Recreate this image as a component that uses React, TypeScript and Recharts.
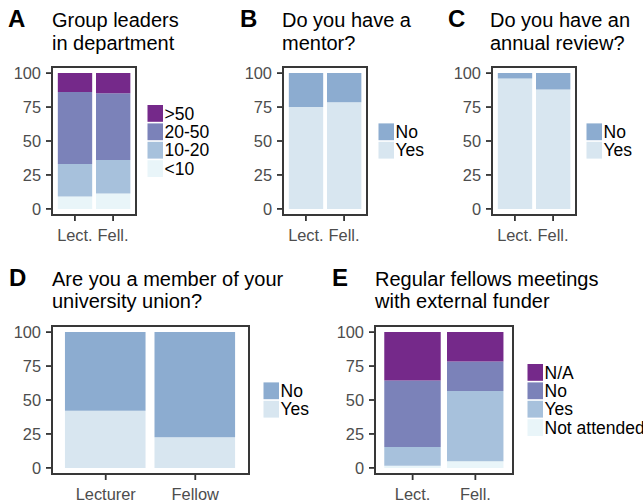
import React from "react";
import { BarChart, Bar, XAxis, YAxis } from "recharts";

const FONT = "'Liberation Sans', Arial, Helvetica, sans-serif";

// Categories
const shortCats = ["Lect.", "Fell."];
const longCats = ["Lecturer", "Fellow"];
const yTicks = [0, 25, 50, 75, 100];

// A: Group leaders in department (stack order bottom -> top)
const leadersLabels = ["<10", "10-20", "20-50", ">50"];
const leadersLt10 = [9.2, 11.4];
const leaders10to20 = [23.8, 24.6];
const leaders20to50 = [53, 49.2];
const leadersGt50 = [14, 14.8];

// B: Do you have a mentor?
const mentorYes = [75, 78.5];
const mentorNo = [25, 21.5];

// C: Do you have an annual review?
const reviewYes = [96, 88];
const reviewNo = [4, 12];

// D: Union membership
const unionYes = [42, 22.5];
const unionNo = [58, 77.5];

// E: Regular fellows meetings with external funder
const funderLabels = ["Not attended", "Yes", "No", "N/A"];
const funderNotAttended = [1.5, 4.8];
const funderYes = [13.9, 51.8];
const funderNo = [49, 21.7];
const funderNA = [35.6, 21.7];

const C_LIGHT = "#e9f5f9";
const C_LBLUE = "#a7c1dc";
const C_MID = "#7b82b9";
const C_PURPLE = "#75298a";
const C_NO = "#8cacd0";
const C_YES = "#d8e6f0";

type Series = { name: string; values: number[]; color: string };

const panels = [
  {
    letter: "A", title: ["Group leaders", "in department"],
    letterX: 8, titleX: 52, titleY: 27.3,
    plotLeft: 52, plotTop: 67, plotW: 84, plotH: 148, cats: shortCats,
    legendX: 147.5,
    series: [
      { name: leadersLabels[0], values: leadersLt10, color: C_LIGHT },
      { name: leadersLabels[1], values: leaders10to20, color: C_LBLUE },
      { name: leadersLabels[2], values: leaders20to50, color: C_MID },
      { name: leadersLabels[3], values: leadersGt50, color: C_PURPLE },
    ] as Series[],
  },
  {
    letter: "B", title: ["Do you have a", "mentor?"],
    letterX: 240, titleX: 282, titleY: 27.3,
    plotLeft: 283, plotTop: 67, plotW: 84, plotH: 148, cats: shortCats,
    legendX: 378.5,
    series: [
      { name: "Yes", values: mentorYes, color: C_YES },
      { name: "No", values: mentorNo, color: C_NO },
    ] as Series[],
  },
  {
    letter: "C", title: ["Do you have an", "annual review?"],
    letterX: 448, titleX: 490, titleY: 27.3,
    plotLeft: 492, plotTop: 67, plotW: 84, plotH: 148, cats: shortCats,
    legendX: 586.5,
    series: [
      { name: "Yes", values: reviewYes, color: C_YES },
      { name: "No", values: reviewNo, color: C_NO },
    ] as Series[],
  },
  {
    letter: "D", title: ["Are you a member of your", "university union?"],
    letterX: 9, titleX: 52, titleY: 285.5,
    plotLeft: 52, plotTop: 326, plotW: 197, plotH: 148, cats: longCats,
    legendX: 263.5,
    series: [
      { name: "Yes", values: unionYes, color: C_YES },
      { name: "No", values: unionNo, color: C_NO },
    ] as Series[],
  },
  {
    letter: "E", title: ["Regular fellows meetings", "with external funder"],
    letterX: 332, titleX: 375, titleY: 285.5,
    plotLeft: 375, plotTop: 326, plotW: 138, plotH: 148, cats: shortCats,
    legendX: 527.5,
    series: [
      { name: funderLabels[0], values: funderNotAttended, color: C_LIGHT },
      { name: funderLabels[1], values: funderYes, color: C_LBLUE },
      { name: funderLabels[2], values: funderNo, color: C_MID },
      { name: funderLabels[3], values: funderNA, color: C_PURPLE },
    ] as Series[],
  },
];

const YW = 50;
const XH = 40;
const MT = 6;
const MR = 6;

function Panel(p: any) {
  const u = p.plotW / 2.2;
  const pad = 0.1 * u;
  const data = p.cats.map((c: string, i: number) => {
    const row: any = { cat: c };
    p.series.forEach((s: Series) => (row[s.name] = s.values[i]));
    return row;
  });
  return (
    <div style={{ position: "absolute", left: p.plotLeft - YW, top: p.plotTop - MT }}>
      <BarChart
        width={YW + p.plotW + MR}
        height={MT + p.plotH + XH}
        data={data}
        margin={{ top: MT, right: MR, bottom: 0, left: 0 }}
        barSize={0.9 * u}
      >
        <XAxis
          dataKey="cat"
          height={XH}
          interval={0}
          padding={{ left: pad, right: pad }}
          axisLine={false}
          tickLine={{ stroke: "#333333", strokeWidth: 1.8 }}
          tickSize={6}
          tickMargin={8}
          tick={{ fill: "#4d4d4d", fontSize: 16.4, fontFamily: FONT }}
        />
        <YAxis
          width={YW}
          type="number"
          domain={[-4.5, 104.5]}
          ticks={yTicks}
          interval={0}
          axisLine={false}
          tickLine={{ stroke: "#333333", strokeWidth: 1.8 }}
          tickSize={6}
          tickMargin={5}
          tick={{ fill: "#4d4d4d", fontSize: 16.4, fontFamily: FONT }}
        />
        {p.series.map((s: Series) => (
          <Bar key={s.name} dataKey={s.name} stackId="a" fill={s.color} isAnimationActive={false} />
        ))}
      </BarChart>
    </div>
  );
}

export default function App() {
  const KEY_W = 15.5;
  const KEY_H = 16.8;
  const STEP = 18.4;
  return (
    <div
      style={{
        position: "absolute",
        left: 0,
        top: 0,
        width: 643,
        height: 502,
        background: "#ffffff",
        overflow: "hidden",
        fontFamily: FONT,
      }}
    >
      {panels.map((p) => (
        <Panel key={p.letter} {...p} />
      ))}
      <svg
        width={643}
        height={502}
        style={{ position: "absolute", left: 0, top: 0, pointerEvents: "none" }}
      >
        {panels.map((p) => {
          const items = [...p.series].reverse();
          const center = p.plotTop + p.plotH / 2;
          const top0 = center - (items.length * STEP) / 2;
          return (
            <g key={p.letter}>
              <rect
                x={p.plotLeft}
                y={p.plotTop}
                width={p.plotW}
                height={p.plotH}
                fill="none"
                stroke="#383838"
                strokeWidth={2}
              />
              <text x={p.letterX} y={p.titleY} fontSize={24} fontWeight="bold" fill="#000" fontFamily={FONT}>
                {p.letter}
              </text>
              {p.title.map((t, i) => (
                <text key={i} x={p.titleX} y={p.titleY + i * 22.7} fontSize={20} fill="#000" fontFamily={FONT}>
                  {t}
                </text>
              ))}
              {items.map((s, i) => {
                const y = top0 + i * STEP + (STEP - KEY_H) / 2;
                return (
                  <g key={s.name}>
                    <rect x={p.legendX} y={y} width={KEY_W} height={KEY_H} fill={s.color} />
                    <text
                      x={p.legendX + KEY_W + 1.5}
                      y={y + KEY_H / 2 + 6.2}
                      fontSize={17.5}
                      fill="#000"
                      fontFamily={FONT}
                    >
                      {s.name}
                    </text>
                  </g>
                );
              })}
            </g>
          );
        })}
      </svg>
    </div>
  );
}
